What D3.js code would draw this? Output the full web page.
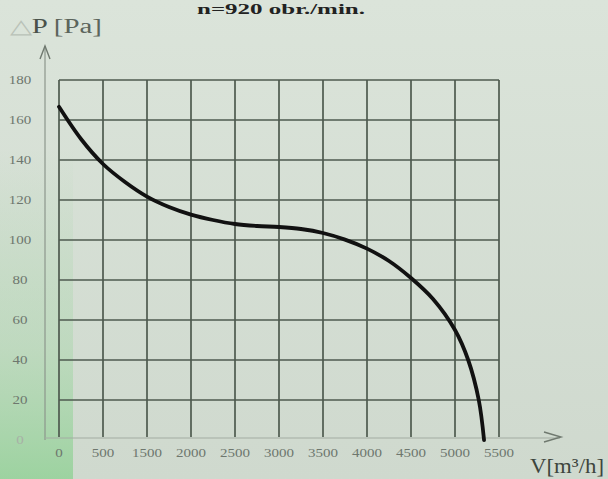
<!DOCTYPE html>
<html>
<head>
<meta charset="utf-8">
<script src="https://cdn.jsdelivr.net/npm/d3@7"></script>
<style>
	body { margin: 0; background: #d4ded3; }
	svg { display: block; }
	text { font-family: "Liberation Serif", "Times New Roman", serif; }
</style>
</head>
<body>
<div class="chart"></div>
<script>
// tick labels as printed on the sheet (yes, 1000 is missing)
let xTicks = [0, 500, 1500, 2000, 2500, 3000, 3500, 4000, 4500, 5000, 5500];
let yTicks = [20, 40, 60, 80, 100, 120, 140, 160, 180];

// fan curve
let flow = [0, 250, 500, 1000, 1500, 1750, 2000, 2250, 2500, 2750, 3000, 3250, 3500, 3750, 4000, 4250, 4500, 4750, 5000, 5150, 5270, 5330];
let pressure = [166.6, 150.5, 138, 129, 121.7, 116.5, 112.7, 110, 108, 107, 106.5, 105.5, 103.5, 100.2, 95.7, 89.5, 81, 70.5, 55, 40, 20, 0];

let width = 608, height = 479;
let gLeft = 59, gRight = 499, gTop = 80, gBottom = 440;

let svg = d3.select(".chart")
	.append("svg")
	.attr("width", width)
	.attr("height", height);

let defs = svg.append("defs");
let bg = defs.append("linearGradient")
	.attr("id", "bg")
	.attr("x1", 0).attr("y1", 0).attr("x2", 0).attr("y2", 1);
bg.append("stop").attr("offset", "0%").attr("stop-color", "#dbe4da");
bg.append("stop").attr("offset", "100%").attr("stop-color", "#cfd9ce");

let green = defs.append("linearGradient")
	.attr("id", "green")
	.attr("x1", 0).attr("y1", 0).attr("x2", 0).attr("y2", 1);
green.append("stop").attr("offset", "0%").attr("stop-color", "#a6d6a8").attr("stop-opacity", 0);
green.append("stop").attr("offset", "60%").attr("stop-color", "#a6d6a8").attr("stop-opacity", 0.45);
green.append("stop").attr("offset", "100%").attr("stop-color", "#97d29b").attr("stop-opacity", 0.9);

svg.append("rect").attr("width", width).attr("height", height).attr("fill", "url(#bg)");
svg.append("rect")
	.attr("x", 0).attr("y", 150)
	.attr("width", 73).attr("height", height - 150)
	.attr("fill", "url(#green)");

let step = (gRight - gLeft) / (xTicks.length - 1);
// one grid cell per printed label
let x = d3.scaleLinear()
	.domain(xTicks)
	.range(xTicks.map(function(d, i) { return gLeft + i * step; }));
let y = d3.scaleLinear().domain([0, 180]).range([gBottom, gTop]);

//grid
let grid = svg.append("g").attr("stroke", "#4e5a4f").attr("stroke-width", 1.7);
grid.selectAll(".v")
	.data(xTicks)
	.enter().append("line")
	.attr("x1", function(d) { return x(d); })
	.attr("x2", function(d) { return x(d); })
	.attr("y1", gTop)
	.attr("y2", gBottom - 3);
grid.selectAll(".h")
	.data(yTicks)
	.enter().append("line")
	.attr("x1", gLeft)
	.attr("x2", gRight)
	.attr("y1", function(d) { return y(d); })
	.attr("y2", function(d) { return y(d); });

// axes with arrows
svg.append("line")
	.attr("x1", 45).attr("x2", 45)
	.attr("y1", gBottom).attr("y2", 46)
	.attr("stroke", "#8c968c").attr("stroke-width", 1.2);
svg.append("path")
	.attr("d", "M40,59 L45,46 L50,59")
	.attr("fill", "none").attr("stroke", "#6f796f").attr("stroke-width", 1.4);
svg.append("line")
	.attr("x1", 45).attr("x2", 560)
	.attr("y1", gBottom - 2).attr("y2", gBottom - 2)
	.attr("stroke", "#a3aca2").attr("stroke-width", 1);
svg.append("path")
	.attr("d", "M544,432 L561,437 L544,442")
	.attr("fill", "none").attr("stroke", "#6f796f").attr("stroke-width", 1.4);

// tick labels
svg.append("g").selectAll("text")
	.data(xTicks)
	.enter().append("text")
	.attr("x", function(d) { return x(d); })
	.attr("y", 457)
	.attr("text-anchor", "middle")
	.attr("font-size", 12)
	.attr("fill", "#6e776e")
	.attr("transform", function(d) { return "translate(" + x(d) + ",0) scale(1.25,1) translate(" + (-x(d)) + ",0)"; })
	.text(function(d) { return d; });

svg.append("g").selectAll("text")
	.data([0].concat(yTicks))
	.enter().append("text")
	.attr("x", 20)
	.attr("y", function(d) { return y(d) + 4; })
	.attr("text-anchor", "middle")
	.attr("font-size", 12)
	.attr("fill", function(d) { return d === 0 ? "#a7b0a6" : "#6e776e"; })
	.attr("transform", "translate(20,0) scale(1.25,1) translate(-20,0)")
	.text(function(d) { return d; });

// curve
let line = d3.line()
	.x(function(d) { return x(d[0]); })
	.y(function(d) { return y(d[1]); })
	.curve(d3.curveCatmullRom.alpha(0.5));

svg.append("path")
	.datum(flow.map(function(f, i) { return [f, pressure[i]]; }))
	.attr("d", line)
	.attr("fill", "none")
	.attr("stroke", "#111")
	.attr("stroke-width", 3.8)
	.attr("stroke-linecap", "round");

// labels
svg.append("text")
	.attr("x", 197).attr("y", 14)
	.attr("font-size", 14).attr("font-weight", "bold")
	.attr("fill", "#222")
	.attr("textLength", 168).attr("lengthAdjust", "spacingAndGlyphs")
	.text("n=920 obr./min.");

let dp = svg.append("text").attr("x", 10).attr("y", 33).attr("font-size", 20);
dp.append("tspan").attr("fill", "#b9c2b8").text("△");
dp.append("tspan").attr("fill", "#4a524a").text("P");
dp.append("tspan").attr("fill", "#5c655c").text(" [Pa]");
dp.attr("textLength", 92).attr("lengthAdjust", "spacingAndGlyphs");

svg.append("text")
	.attr("x", 530).attr("y", 473)
	.attr("font-size", 22)
	.attr("fill", "#3d453d")
	.attr("textLength", 74).attr("lengthAdjust", "spacingAndGlyphs")
	.text("V[m³/h]");
</script>
</body>
</html>
